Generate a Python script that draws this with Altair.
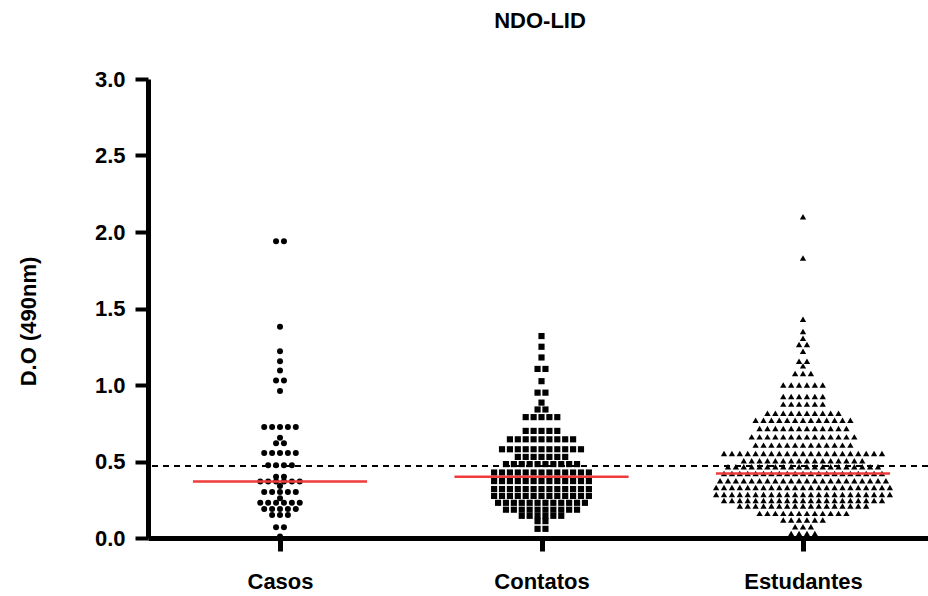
import altair as alt
import pandas as pd

# ---------------- data ----------------
title_text = ["NDO-LID"]
groups = ["Casos", "Contatos", "Estudantes"]

casos_levels = [1.94, 1.38, 1.22, 1.155, 1.095, 1.03, 0.96, 0.725, 0.655, 0.62,
                0.555, 0.475, 0.40, 0.37, 0.34, 0.30, 0.26, 0.23, 0.19, 0.15, 0.07, 0.01]
casos_counts = [2, 1, 1, 1, 1, 2, 1, 5, 1, 2,
                5, 4, 2, 6, 1, 5, 1, 6, 5, 3, 2, 1]

contatos_levels = [1.32, 1.25, 1.18, 1.105, 1.025, 0.95, 0.885, 0.84, 0.79, 0.70,
                   0.645, 0.58, 0.53, 0.483, 0.428, 0.372, 0.32, 0.275, 0.23, 0.185,
                   0.145, 0.11, 0.06]
contatos_counts = [1, 1, 1, 2, 1, 2, 1, 2, 5, 5,
                   9, 11, 7, 10, 13, 13, 13, 13, 12, 10,
                   6, 2, 2]

estudantes_levels = [2.10, 1.83, 1.43, 1.35, 1.305, 1.265, 1.22, 1.155, 1.125, 1.075,
                     1.00, 0.925, 0.875, 0.815, 0.77, 0.716, 0.661, 0.607, 0.553, 0.505,
                     0.465, 0.422, 0.374, 0.33, 0.285, 0.245, 0.209, 0.161, 0.117, 0.074,
                     0.03]
estudantes_counts = [1, 1, 1, 1, 1, 2, 1, 2, 1, 3,
                     6, 6, 6, 10, 13, 12, 14, 13, 21, 16,
                     20, 21, 22, 23, 23, 21, 17, 12, 6, 3,
                     4]

cutoff = [0.47]
y_ticks = [0.0, 0.5, 1.0, 1.5, 2.0, 2.5, 3.0]

# ---------------- table ----------------
rows = []
for gi, (g, levels, counts) in enumerate(zip(
        groups,
        [casos_levels, contatos_levels, estudantes_levels],
        [casos_counts, contatos_counts, estudantes_counts])):
    for v, c in zip(levels, counts):
        for _ in range(c):
            rows.append({"group": g, "gidx": gi + 1, "value": v})
df = pd.DataFrame(rows)

# ---------------- style ----------------
FONT = "Liberation Sans"
SLOT = 0.0302      # horizontal spacing of markers (x units)
HALF = 0.333       # half width of the median line (x units)

xscale = alt.Scale(domain=[0.4952, 3.478], nice=False, zero=False)
yscale = alt.Scale(domain=[0, 3], nice=False, zero=False)

label_expr = "[" + ",".join("'%s'" % g for g in groups) + "][datum.value - 1]"

xaxis = alt.Axis(values=[1, 2, 3], labelExpr=label_expr, grid=False, title=None,
                 domainColor="black", domainWidth=5, tickColor="black", tickWidth=5,
                 tickSize=13, labelFont=FONT, labelFontSize=22, labelFontWeight="bold",
                 labelColor="black", labelPadding=37, labelBaseline="alphabetic",
                 labelOverlap=False, labelFlush=False)
yaxis = alt.Axis(values=y_ticks, format=".1f", grid=False, title="D.O (490nm)",
                 domainColor="black", domainWidth=5, tickColor="black", tickWidth=4,
                 tickSize=13, labelFont=FONT, labelFontSize=22, labelFontWeight="bold",
                 labelColor="black", labelPadding=10, labelOverlap=False, labelFlush=False,
                 titleFont=FONT, titleFontSize=22, titleFontWeight="bold", titleColor="black",
                 titleAngle=270, titleX=-113, titleY=242, titleAlign="center",
                 titleBaseline="alphabetic")

base = alt.Chart(df)

points = base.transform_window(
    rank="row_number()", groupby=["group", "value"]
).transform_joinaggregate(
    n="count()", groupby=["group", "value"]
).transform_calculate(
    xpos=f"datum.gidx + (datum.rank - (datum.n + 1) / 2) * {SLOT}"
).mark_point(filled=True, opacity=1, color="black", strokeWidth=0).encode(
    x=alt.X("xpos:Q", scale=xscale, axis=xaxis),
    y=alt.Y("value:Q", scale=yscale, axis=yaxis),
    shape=alt.Shape("group:N", scale=alt.Scale(domain=groups,
                    range=["circle", "square", "triangle-up"]), legend=None),
    size=alt.Size("group:N", scale=alt.Scale(domain=groups, range=[36, 40, 46]),
                  legend=None),
)

dashed = alt.Chart(pd.DataFrame({"c": cutoff})).mark_rule(
    color="black", strokeWidth=2, strokeDash=[6, 5]
).encode(y=alt.Y("c:Q", scale=yscale, axis=yaxis))

medians = base.transform_aggregate(
    med="median(value)", groupby=["group", "gidx"]
).transform_calculate(
    x1=f"datum.gidx - {HALF}", x2=f"datum.gidx + {HALF}"
).mark_rule(color="#ef3b3b", strokeWidth=2.5).encode(
    x=alt.X("x1:Q", scale=xscale, axis=xaxis),
    x2="x2:Q",
    y=alt.Y("med:Q", scale=yscale, axis=yaxis),
)

# chart title, drawn as a text mark placed above the plot area
title = alt.Chart(pd.DataFrame({"t": title_text})).mark_text(
    font=FONT, fontSize=22, fontWeight="bold", color="black",
    align="center", baseline="alphabetic"
).encode(text="t:N", x=alt.value(392), y=alt.value(-51))

chart = alt.layer(points, dashed, medians, title).properties(
    width=780, height=459,
    autosize=alt.AutoSizeParams(type="none"),
    padding={"left": 148, "top": 79, "right": 0, "bottom": 58},
    background="white",
).configure_view(stroke=None)

chart.save("out.html", embed_options={"renderer": "svg", "actions": False})
